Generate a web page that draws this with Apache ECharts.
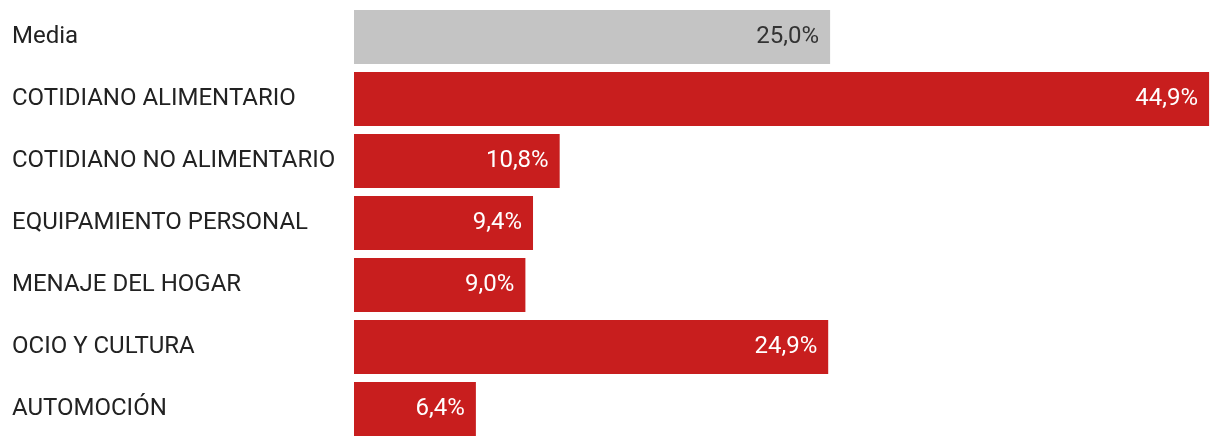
<!DOCTYPE html>
<html><head><meta charset="utf-8">
<script src="https://cdn.jsdelivr.net/npm/echarts@6/dist/echarts.min.js"></script>
<style>html,body{margin:0;padding:0;background:#fff}#c{width:1220px;height:446px}</style>
</head><body><div id="c"></div>
<script>
const categories = ['Media','COTIDIANO ALIMENTARIO','COTIDIANO NO ALIMENTARIO','EQUIPAMIENTO PERSONAL','MENAJE DEL HOGAR','OCIO Y CULTURA','AUTOMOCIÓN'];
const values = [25.0, 44.9, 10.8, 9.4, 9.0, 24.9, 6.4];
const highlight = 'Media';

const chart = echarts.init(document.getElementById('c'), null, {renderer:'canvas'});
chart.setOption({
  animation:false,
  grid:{left:354, right:9, top:6, height:434, containLabel:false},
  xAxis:{type:'value', min:0, max:45, show:false},
  yAxis:{type:'category', inverse:true, data:categories,
    axisLine:{show:false}, axisTick:{show:false}, splitLine:{show:false},
    axisLabel:{align:'left', margin:342, fontFamily:'Roboto', fontSize:24, color:'#222', padding:[2,0,0,0]}},
  series:[{type:'bar', barWidth:54,
    data: values.map((v,i)=>({value:v,
      itemStyle:{color: categories[i]===highlight ? '#c4c4c4' : '#c81e1e'},
      label:{color: categories[i]===highlight ? '#333' : '#fff'}})),
    label:{show:true, position:'insideRight', distance:11, fontFamily:'Roboto', fontSize:24, padding:[2,0,0,0],
      formatter:p=>p.value.toFixed(1).replace('.',',')+'%'}
  }]
});
</script></body></html>
